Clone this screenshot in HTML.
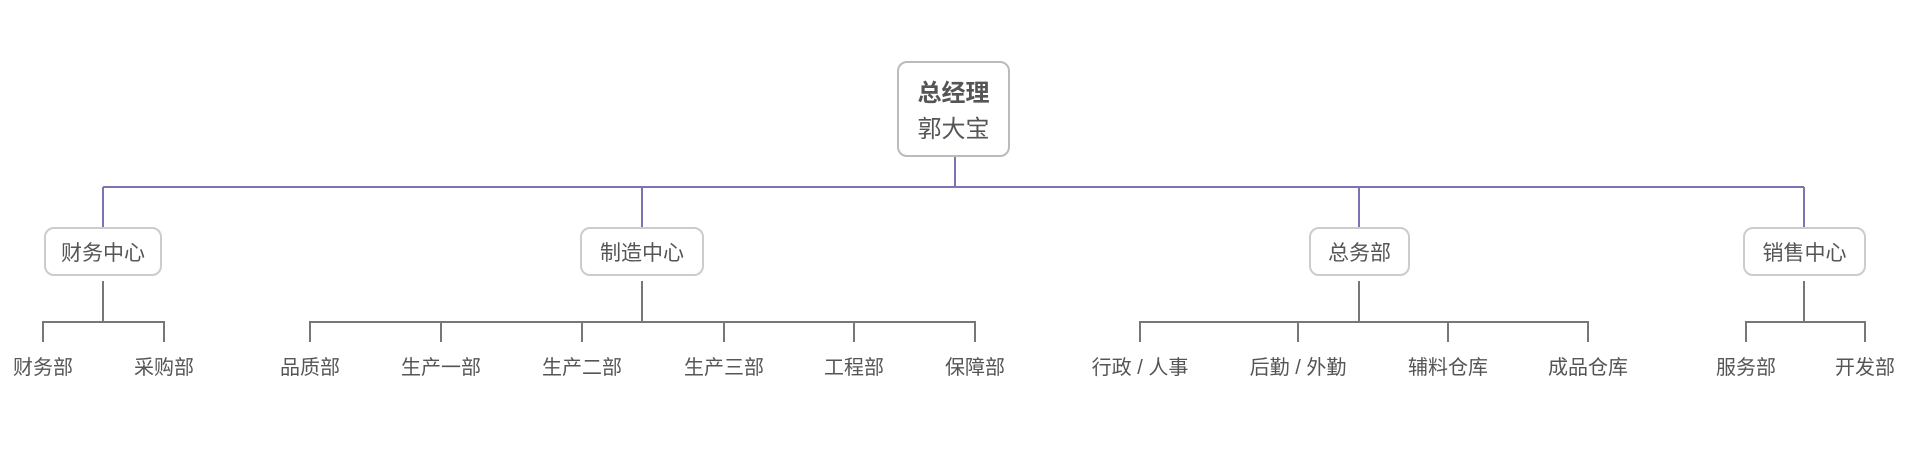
<!DOCTYPE html>
<html><head><meta charset="utf-8"><style>
html,body{margin:0;padding:0;background:#fff;width:1914px;height:456px;overflow:hidden;position:relative;font-family:"Liberation Sans","Noto Sans CJK SC",sans-serif;color:#555}
.box{position:absolute;border:2px solid #ccc;border-radius:10px;background:#fff;box-sizing:border-box;display:flex;align-items:center;justify-content:center;font-size:21px;color:#555}
.lbl{position:absolute;top:354px;font-size:20px;color:#555;white-space:nowrap;transform:translateX(-50%);line-height:28px}
</style></head><body>
<svg width="1914" height="456" style="position:absolute;left:0;top:0">
<g stroke="#7a74b3" stroke-width="2" fill="none">
<line x1="955" y1="157" x2="955" y2="187"/>
<line x1="103" y1="187" x2="1804" y2="187"/>
<line x1="103" y1="187" x2="103" y2="227"/>
<line x1="642" y1="187" x2="642" y2="227"/>
<line x1="1359" y1="187" x2="1359" y2="227"/>
<line x1="1804" y1="187" x2="1804" y2="227"/>
</g>
<g stroke="#777" stroke-width="2" fill="none">
<line x1="103" y1="281" x2="103" y2="322"/><path d="M43 342V322H164V342"/>
<line x1="642" y1="281" x2="642" y2="322"/><path d="M310 342V322H975V342"/>
<line x1="441" y1="322" x2="441" y2="342"/><line x1="582" y1="322" x2="582" y2="342"/><line x1="724" y1="322" x2="724" y2="342"/><line x1="854" y1="322" x2="854" y2="342"/>
<line x1="1359" y1="281" x2="1359" y2="322"/><path d="M1140 342V322H1588V342"/>
<line x1="1298" y1="322" x2="1298" y2="342"/><line x1="1448" y1="322" x2="1448" y2="342"/>
<line x1="1804" y1="281" x2="1804" y2="322"/><path d="M1746 342V322H1865V342"/>
</g>
</svg>
<div class="box" style="left:897px;top:61px;width:113px;height:96px;flex-direction:column;font-size:24px;line-height:36px;padding-top:6px;border-color:#bbb"><div style="font-weight:bold">总经理</div><div>郭大宝</div></div>
<div class="box" style="left:44px;top:227px;width:118px;height:49px">财务中心</div>
<div class="box" style="left:580px;top:227px;width:124px;height:49px">制造中心</div>
<div class="box" style="left:1309px;top:227px;width:101px;height:49px">总务部</div>
<div class="box" style="left:1743px;top:227px;width:123px;height:49px">销售中心</div>
<div class="lbl" style="left:43px">财务部</div>
<div class="lbl" style="left:164px">采购部</div>
<div class="lbl" style="left:310px">品质部</div>
<div class="lbl" style="left:441px">生产一部</div>
<div class="lbl" style="left:582px">生产二部</div>
<div class="lbl" style="left:724px">生产三部</div>
<div class="lbl" style="left:854px">工程部</div>
<div class="lbl" style="left:975px">保障部</div>
<div class="lbl" style="left:1140px">行政 / 人事</div>
<div class="lbl" style="left:1298px">后勤 / 外勤</div>
<div class="lbl" style="left:1448px">辅料仓库</div>
<div class="lbl" style="left:1588px">成品仓库</div>
<div class="lbl" style="left:1746px">服务部</div>
<div class="lbl" style="left:1865px">开发部</div>
</body></html>
